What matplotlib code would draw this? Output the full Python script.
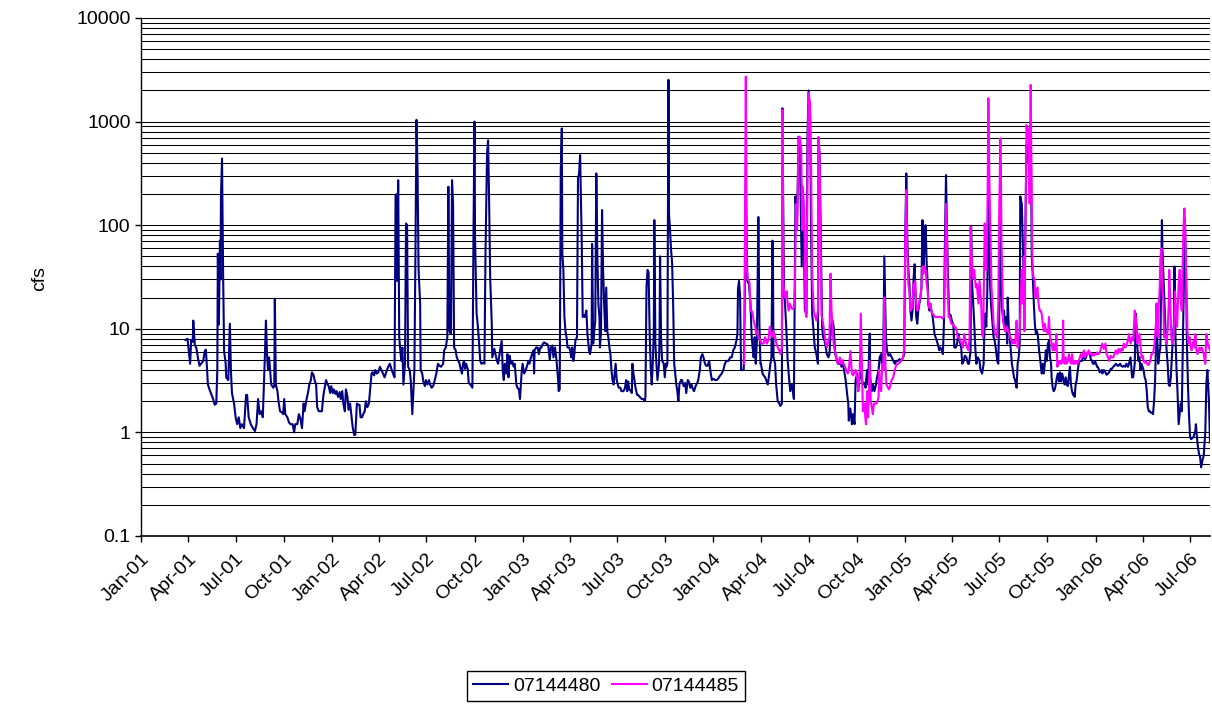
import matplotlib
matplotlib.use("Agg")
import matplotlib.pyplot as plt
import matplotlib.dates as mdates
from matplotlib.ticker import LogLocator, FuncFormatter, NullFormatter
import pandas as pd

# ---------------- data ----------------
series_names = ["07144480", "07144485"]

navy_2001 = [("2001-03-27", 7.8), ("2001-03-31", 8.0), ("2001-04-05", 4.6), ("2001-04-07", 7.8), ("2001-04-10", 7.5),
             ("2001-04-11", 12), ("2001-04-14", 7.0), ("2001-04-17", 6.5), ("2001-04-20", 5.2), ("2001-04-23", 4.4),
             ("2001-04-26", 4.6), ("2001-04-30", 4.9), ("2001-05-03", 6.1), ("2001-05-05", 6.3), ("2001-05-07", 4.4),
             ("2001-05-09", 2.9), ("2001-05-12", 2.6), ("2001-05-16", 2.3), ("2001-05-19", 2.1), ("2001-05-22", 1.85),
             ("2001-05-25", 1.9), ("2001-05-27", 4.0), ("2001-05-28", 53), ("2001-05-30", 11), ("2001-06-01", 71),
             ("2001-06-02", 30), ("2001-06-03", 190), ("2001-06-05", 440), ("2001-06-07", 37), ("2001-06-09", 6.1),
             ("2001-06-12", 4.6), ("2001-06-13", 3.4), ("2001-06-17", 3.2), ("2001-06-20", 11.2), ("2001-06-22", 4.0),
             ("2001-06-24", 2.4), ("2001-06-28", 1.9), ("2001-07-01", 1.4), ("2001-07-04", 1.2), ("2001-07-07", 1.4),
             ("2001-07-10", 1.1), ("2001-07-13", 1.2), ("2001-07-17", 1.1), ("2001-07-21", 2.3), ("2001-07-23", 2.3),
             ("2001-07-26", 1.4), ("2001-07-30", 1.2), ("2001-08-03", 1.1), ("2001-08-07", 1.03), ("2001-08-10", 1.2),
             ("2001-08-13", 2.1), ("2001-08-16", 1.5), ("2001-08-19", 1.6), ("2001-08-22", 1.4), ("2001-08-26", 5.5),
             ("2001-08-28", 12), ("2001-08-30", 5.8), ("2001-09-01", 4.0), ("2001-09-03", 5.3), ("2001-09-05", 4.0),
             ("2001-09-07", 2.9), ("2001-09-11", 2.7), ("2001-09-13", 2.8), ("2001-09-14", 19.5), ("2001-09-16", 2.9),
             ("2001-09-19", 2.5), ("2001-09-21", 2.0), ("2001-09-24", 1.6), ("2001-09-28", 1.55), ("2001-09-30", 1.5),
             ("2001-10-02", 2.1), ("2001-10-04", 1.5), ("2001-10-08", 1.4), ("2001-10-11", 1.25), ("2001-10-14", 1.2),
             ("2001-10-18", 1.2), ("2001-10-21", 1.0), ("2001-10-23", 1.2), ("2001-10-27", 1.2), ("2001-10-30", 1.5),
             ("2001-11-02", 1.35), ("2001-11-05", 1.1), ("2001-11-08", 1.9), ("2001-11-10", 1.6), ("2001-11-13", 2.0),
             ("2001-11-17", 2.5), ("2001-11-19", 2.9), ("2001-11-22", 3.2), ("2001-11-24", 3.8), ("2001-11-27", 3.6),
             ("2001-11-29", 3.2), ("2001-12-02", 2.9), ("2001-12-04", 1.75), ("2001-12-07", 1.6), ("2001-12-11", 1.6),
             ("2001-12-13", 1.6), ("2001-12-16", 2.3), ("2001-12-19", 2.8), ("2001-12-21", 3.2), ("2001-12-24", 2.9),
             ("2001-12-26", 2.8), ("2001-12-29", 2.4), ("2001-12-31", 2.8)]

navy_2002 = [("2002-01-03", 2.4), ("2002-01-05", 2.6), ("2002-01-08", 2.35), ("2002-01-10", 2.5), ("2002-01-13", 2.2),
             ("2002-01-16", 2.45), ("2002-01-18", 2.1), ("2002-01-21", 2.5), ("2002-01-23", 1.9), ("2002-01-26", 1.6),
             ("2002-01-28", 2.6), ("2002-01-31", 2.2), ("2002-02-02", 1.65), ("2002-02-05", 1.9), ("2002-02-08", 1.4),
             ("2002-02-10", 1.12), ("2002-02-13", 0.94), ("2002-02-15", 0.95), ("2002-02-18", 1.9), ("2002-02-20", 1.85),
             ("2002-02-23", 1.85), ("2002-02-25", 1.4), ("2002-02-28", 1.4), ("2002-03-02", 1.5), ("2002-03-05", 1.6),
             ("2002-03-07", 2.0), ("2002-03-10", 1.75), ("2002-03-13", 1.9), ("2002-03-15", 2.5), ("2002-03-18", 3.7),
             ("2002-03-20", 3.8), ("2002-03-23", 3.55), ("2002-03-25", 4.0), ("2002-03-28", 3.7), ("2002-03-31", 3.8),
             ("2002-04-03", 4.3), ("2002-04-06", 4.0), ("2002-04-09", 3.7), ("2002-04-12", 3.4), ("2002-04-15", 3.8),
             ("2002-04-19", 4.3), ("2002-04-22", 4.6), ("2002-04-25", 4.1), ("2002-04-28", 3.7), ("2002-05-01", 3.4),
             ("2002-05-03", 195), ("2002-05-05", 200), ("2002-05-06", 29), ("2002-05-08", 272), ("2002-05-10", 8.3),
             ("2002-05-12", 6.2), ("2002-05-14", 4.9), ("2002-05-16", 6.6), ("2002-05-18", 2.9), ("2002-05-21", 4.6),
             ("2002-05-23", 104), ("2002-05-25", 100), ("2002-05-27", 4.3), ("2002-05-30", 4.0), ("2002-06-01", 3.2),
             ("2002-06-04", 1.5), ("2002-06-06", 2.5), ("2002-06-08", 4.0), ("2002-06-10", 53), ("2002-06-12", 1040),
             ("2002-06-14", 340), ("2002-06-16", 37), ("2002-06-19", 17.5), ("2002-06-20", 4.0), ("2002-06-23", 3.7),
             ("2002-06-25", 3.1), ("2002-06-28", 2.8), ("2002-06-30", 3.2), ("2002-07-03", 2.9), ("2002-07-06", 3.2),
             ("2002-07-08", 2.9), ("2002-07-11", 2.7), ("2002-07-14", 2.8), ("2002-07-17", 3.2), ("2002-07-20", 3.7),
             ("2002-07-23", 4.6), ("2002-07-26", 4.4), ("2002-07-29", 4.3), ("2002-08-02", 4.6), ("2002-08-04", 6.2),
             ("2002-08-07", 6.6), ("2002-08-10", 8.3), ("2002-08-12", 235), ("2002-08-14", 9.5), ("2002-08-17", 8.9),
             ("2002-08-19", 272), ("2002-08-21", 162), ("2002-08-23", 6.6), ("2002-08-26", 6.2), ("2002-08-28", 5.3),
             ("2002-08-31", 4.9), ("2002-09-02", 4.7), ("2002-09-05", 4.0), ("2002-09-07", 3.7), ("2002-09-09", 4.6),
             ("2002-09-11", 4.9), ("2002-09-13", 4.1), ("2002-09-15", 4.6), ("2002-09-18", 4.1), ("2002-09-20", 3.0),
             ("2002-09-23", 2.9), ("2002-09-25", 2.8), ("2002-09-27", 2.7), ("2002-09-29", 77), ("2002-10-01", 1000),
             ("2002-10-02", 77), ("2002-10-05", 14), ("2002-10-07", 11.2), ("2002-10-09", 8.3), ("2002-10-12", 4.9),
             ("2002-10-14", 4.6), ("2002-10-17", 4.7), ("2002-10-20", 4.6), ("2002-10-22", 53), ("2002-10-25", 494),
             ("2002-10-27", 660), ("2002-10-29", 162), ("2002-10-31", 31), ("2002-11-03", 11.2), ("2002-11-04", 5.3),
             ("2002-11-08", 6.4), ("2002-11-10", 5.7), ("2002-11-13", 4.9), ("2002-11-15", 4.6), ("2002-11-18", 5.7),
             ("2002-11-20", 6.6), ("2002-11-22", 7.7), ("2002-11-24", 4.0), ("2002-11-26", 3.2), ("2002-11-28", 4.6),
             ("2002-11-30", 4.0), ("2002-12-01", 3.7), ("2002-12-03", 5.7), ("2002-12-05", 3.4), ("2002-12-07", 5.5),
             ("2002-12-10", 4.6), ("2002-12-12", 4.9), ("2002-12-15", 4.3), ("2002-12-17", 4.6), ("2002-12-20", 2.9),
             ("2002-12-22", 2.7), ("2002-12-25", 2.6), ("2002-12-27", 2.1), ("2002-12-30", 3.7)]

navy_2003 = [("2003-01-01", 4.6), ("2003-01-04", 3.7), ("2003-01-07", 4.0), ("2003-01-09", 4.3), ("2003-01-12", 4.9),
             ("2003-01-14", 4.6), ("2003-01-17", 5.3), ("2003-01-19", 5.7), ("2003-01-22", 6.2), ("2003-01-23", 3.7),
             ("2003-01-24", 6.2), ("2003-01-27", 6.6), ("2003-01-30", 6.6), ("2003-02-01", 5.7), ("2003-02-04", 6.6),
             ("2003-02-06", 6.6), ("2003-02-09", 7.2), ("2003-02-11", 7.4), ("2003-02-14", 7.2), ("2003-02-16", 7.2),
             ("2003-02-19", 6.9), ("2003-02-22", 5.0), ("2003-02-24", 6.6), ("2003-02-27", 6.9), ("2003-03-01", 5.3),
             ("2003-03-04", 6.6), ("2003-03-07", 4.9), ("2003-03-10", 3.2), ("2003-03-11", 2.5), ("2003-03-13", 2.6),
             ("2003-03-15", 340), ("2003-03-17", 860), ("2003-03-18", 53), ("2003-03-20", 37), ("2003-03-22", 13),
             ("2003-03-24", 9.5), ("2003-03-26", 8.3), ("2003-03-28", 6.6), ("2003-03-31", 6.6), ("2003-04-02", 6.2),
             ("2003-04-04", 5.3), ("2003-04-06", 6.6), ("2003-04-08", 4.9), ("2003-04-10", 5.7), ("2003-04-12", 7.7),
             ("2003-04-15", 8.3), ("2003-04-17", 290), ("2003-04-19", 310), ("2003-04-21", 476), ("2003-04-24", 77),
             ("2003-04-26", 13), ("2003-04-28", 13.5), ("2003-04-30", 13), ("2003-05-03", 15), ("2003-05-05", 9),
             ("2003-05-08", 6.2), ("2003-05-10", 5.7), ("2003-05-13", 7.2), ("2003-05-14", 66), ("2003-05-16", 7.2),
             ("2003-05-18", 9.5), ("2003-05-20", 12), ("2003-05-22", 316), ("2003-05-24", 50), ("2003-05-26", 17.5),
             ("2003-05-28", 13), ("2003-05-29", 6.6), ("2003-05-31", 9.5), ("2003-06-02", 140), ("2003-06-04", 37),
             ("2003-06-06", 17.5), ("2003-06-08", 9.5), ("2003-06-10", 25), ("2003-06-12", 9.5), ("2003-06-14", 8.3),
             ("2003-06-16", 6.6), ("2003-06-18", 5.7), ("2003-06-20", 4.0), ("2003-06-22", 3.2), ("2003-06-24", 2.9),
             ("2003-06-26", 3.7), ("2003-06-28", 4.6), ("2003-06-30", 3.2), ("2003-07-02", 2.9), ("2003-07-04", 2.7),
             ("2003-07-07", 2.7), ("2003-07-09", 2.5), ("2003-07-13", 2.5), ("2003-07-16", 2.7), ("2003-07-18", 3.2),
             ("2003-07-20", 2.5), ("2003-07-22", 3.1), ("2003-07-24", 2.6), ("2003-07-27", 2.5), ("2003-07-29", 2.4),
             ("2003-07-30", 4.6), ("2003-08-01", 3.7), ("2003-08-03", 3.2), ("2003-08-05", 2.7), ("2003-08-08", 2.3),
             ("2003-08-10", 2.3), ("2003-08-13", 2.2), ("2003-08-17", 2.1), ("2003-08-20", 2.1), ("2003-08-23", 2.0),
             ("2003-08-24", 2.2), ("2003-08-26", 25), ("2003-08-28", 37), ("2003-08-30", 35), ("2003-09-01", 9.5),
             ("2003-09-03", 4.3), ("2003-09-05", 2.9), ("2003-09-07", 4.6), ("2003-09-09", 9.5), ("2003-09-10", 112),
             ("2003-09-12", 7.2), ("2003-09-14", 4.6), ("2003-09-16", 3.2), ("2003-09-19", 4.6), ("2003-09-20", 9),
             ("2003-09-21", 50), ("2003-09-23", 7.7), ("2003-09-25", 4.9), ("2003-09-28", 4.6), ("2003-09-30", 3.4),
             ("2003-10-02", 4.6), ("2003-10-03", 4.3), ("2003-10-05", 4.6), ("2003-10-07", 2530), ("2003-10-08", 130),
             ("2003-10-10", 90), ("2003-10-12", 58), ("2003-10-14", 43), ("2003-10-16", 17.5), ("2003-10-18", 4.6),
             ("2003-10-20", 3.7), ("2003-10-22", 2.9), ("2003-10-24", 2.5), ("2003-10-26", 2.0), ("2003-10-28", 2.9),
             ("2003-10-31", 3.2), ("2003-11-02", 3.2), ("2003-11-05", 2.8), ("2003-11-08", 3.0), ("2003-11-10", 2.4),
             ("2003-11-13", 3.2), ("2003-11-15", 3.1), ("2003-11-18", 2.7), ("2003-11-20", 2.9), ("2003-11-23", 2.6),
             ("2003-11-25", 2.5), ("2003-11-28", 2.8), ("2003-12-01", 3.0), ("2003-12-03", 3.2), ("2003-12-06", 4.0),
             ("2003-12-08", 5.3), ("2003-12-11", 5.7), ("2003-12-13", 5.3), ("2003-12-16", 4.6), ("2003-12-18", 4.4),
             ("2003-12-21", 4.4), ("2003-12-24", 4.9), ("2003-12-26", 4.0), ("2003-12-29", 3.2)]

navy_2004 = [("2004-01-01", 3.3), ("2004-01-04", 3.2), ("2004-01-07", 3.2), ("2004-01-10", 3.3), ("2004-01-14", 3.55),
             ("2004-01-17", 3.7), ("2004-01-20", 4.0), ("2004-01-23", 4.6), ("2004-01-26", 4.9), ("2004-01-30", 4.9),
             ("2004-02-02", 5.3), ("2004-02-05", 5.3), ("2004-02-08", 6.2), ("2004-02-11", 6.6), ("2004-02-14", 7.7),
             ("2004-02-16", 9), ("2004-02-17", 24), ("2004-02-19", 29), ("2004-02-21", 21), ("2004-02-23", 4.0),
             ("2004-02-28", 4.0), ("2004-03-01", 17.5), ("2004-03-03", 250), ("2004-03-06", 29), ("2004-03-09", 27),
             ("2004-03-12", 17.5), ("2004-03-14", 8.9), ("2004-03-16", 6.6), ("2004-03-18", 5.3), ("2004-03-20", 8.3),
             ("2004-03-22", 4.6), ("2004-03-24", 7.2), ("2004-03-26", 40), ("2004-03-27", 120), ("2004-03-29", 11.2),
             ("2004-03-31", 4.6), ("2004-04-01", 4.6), ("2004-04-04", 3.7), ("2004-04-06", 3.55), ("2004-04-09", 3.4),
             ("2004-04-11", 3.2), ("2004-04-14", 2.9), ("2004-04-16", 3.4), ("2004-04-19", 4.6), ("2004-04-21", 5.3),
             ("2004-04-23", 71), ("2004-04-24", 37), ("2004-04-25", 5.3), ("2004-04-28", 4.6), ("2004-04-30", 2.9),
             ("2004-05-03", 2.0), ("2004-05-06", 1.9), ("2004-05-08", 1.8), ("2004-05-11", 1.9), ("2004-05-12", 1345),
             ("2004-05-15", 23), ("2004-05-17", 17.5), ("2004-05-20", 8.9), ("2004-05-22", 5.0), ("2004-05-25", 3.2),
             ("2004-05-27", 2.5), ("2004-05-30", 2.9), ("2004-06-01", 2.5), ("2004-06-03", 2.1), ("2004-06-05", 37),
             ("2004-06-06", 190), ("2004-06-09", 100), ("2004-06-12", 715), ("2004-06-14", 660), ("2004-06-17", 77),
             ("2004-06-18", 40), ("2004-06-20", 190), ("2004-06-22", 77), ("2004-06-24", 15), ("2004-06-27", 14),
             ("2004-06-29", 716), ("2004-07-01", 2000), ("2004-07-04", 1100), ("2004-07-06", 77), ("2004-07-08", 14),
             ("2004-07-11", 8.9), ("2004-07-13", 6.6), ("2004-07-16", 5.7), ("2004-07-19", 4.6), ("2004-07-20", 690),
             ("2004-07-22", 494), ("2004-07-25", 45), ("2004-07-27", 10.5), ("2004-07-29", 8.3), ("2004-07-31", 7.9),
             ("2004-08-03", 6.6), ("2004-08-05", 5.7), ("2004-08-08", 5.3), ("2004-08-10", 5.7), ("2004-08-13", 10.5),
             ("2004-08-16", 12), ("2004-08-18", 10.5), ("2004-08-21", 5.7), ("2004-08-23", 5.3), ("2004-08-26", 4.6),
             ("2004-08-28", 4.6), ("2004-08-31", 4.6), ("2004-09-02", 4.3), ("2004-09-05", 4.6), ("2004-09-08", 3.7),
             ("2004-09-10", 3.2), ("2004-09-13", 2.3), ("2004-09-15", 1.9), ("2004-09-16", 1.3), ("2004-09-19", 1.7),
             ("2004-09-22", 1.2), ("2004-09-24", 1.5), ("2004-09-27", 1.2), ("2004-09-29", 3.2), ("2004-10-02", 3.7),
             ("2004-10-04", 2.5), ("2004-10-07", 3.4), ("2004-10-09", 3.8), ("2004-10-13", 2.9), ("2004-10-16", 3.0),
             ("2004-10-18", 2.7), ("2004-10-21", 4.0), ("2004-10-23", 2.9), ("2004-10-26", 9), ("2004-10-27", 3.4),
             ("2004-10-30", 2.5), ("2004-11-01", 2.9), ("2004-11-04", 2.5), ("2004-11-07", 2.9), ("2004-11-09", 3.4),
             ("2004-11-12", 4.0), ("2004-11-14", 5.3), ("2004-11-17", 5.7), ("2004-11-19", 4.0), ("2004-11-21", 5.7),
             ("2004-11-23", 50), ("2004-11-26", 8.3), ("2004-11-28", 6.2), ("2004-12-01", 5.5), ("2004-12-04", 5.7),
             ("2004-12-07", 5.3), ("2004-12-10", 4.9), ("2004-12-13", 4.6), ("2004-12-16", 4.9), ("2004-12-19", 4.9),
             ("2004-12-22", 5.1), ("2004-12-25", 4.9), ("2004-12-29", 5.3), ("2004-12-31", 5.7)]

navy_2005 = [("2005-01-02", 77), ("2005-01-04", 316), ("2005-01-06", 71), ("2005-01-08", 37), ("2005-01-10", 27),
             ("2005-01-12", 15), ("2005-01-14", 12), ("2005-01-16", 15), ("2005-01-18", 31), ("2005-01-20", 42),
             ("2005-01-21", 25), ("2005-01-23", 13), ("2005-01-25", 11.2), ("2005-01-27", 15), ("2005-01-29", 17.5),
             ("2005-01-31", 20), ("2005-02-02", 25), ("2005-02-04", 112), ("2005-02-06", 37), ("2005-02-08", 66),
             ("2005-02-10", 100), ("2005-02-12", 43), ("2005-02-14", 27), ("2005-02-15", 17.5), ("2005-02-17", 15),
             ("2005-02-19", 17.5), ("2005-02-21", 15), ("2005-02-23", 13.5), ("2005-02-25", 11.2), ("2005-02-27", 8.9),
             ("2005-03-01", 8.3), ("2005-03-03", 7.7), ("2005-03-05", 7.2), ("2005-03-08", 6.2), ("2005-03-10", 6.6),
             ("2005-03-13", 6.2), ("2005-03-15", 5.7), ("2005-03-17", 11.2), ("2005-03-19", 77), ("2005-03-21", 305),
             ("2005-03-23", 77), ("2005-03-25", 29), ("2005-03-27", 14), ("2005-03-30", 13.5), ("2005-04-01", 12),
             ("2005-04-04", 11), ("2005-04-06", 6.6), ("2005-04-09", 6.6), ("2005-04-11", 7.2), ("2005-04-14", 8.9),
             ("2005-04-16", 7.7), ("2005-04-19", 6.6), ("2005-04-21", 4.6), ("2005-04-24", 4.9), ("2005-04-26", 5.5),
             ("2005-04-29", 5.3), ("2005-05-02", 4.6), ("2005-05-04", 4.6), ("2005-05-07", 6.2), ("2005-05-08", 96),
             ("2005-05-10", 27), ("2005-05-12", 17.5), ("2005-05-14", 11.2), ("2005-05-16", 6.6), ("2005-05-18", 4.6),
             ("2005-05-21", 5.3), ("2005-05-24", 4.9), ("2005-05-26", 4.0), ("2005-05-29", 3.7), ("2005-06-01", 4.6),
             ("2005-06-02", 8.3), ("2005-06-04", 14), ("2005-06-06", 10.5), ("2005-06-08", 23), ("2005-06-10", 300),
             ("2005-06-13", 29), ("2005-06-15", 17.5), ("2005-06-18", 11.2), ("2005-06-20", 8.3), ("2005-06-22", 7.7),
             ("2005-06-24", 6.6), ("2005-06-27", 4.9), ("2005-06-29", 4.6), ("2005-07-01", 15), ("2005-07-03", 400),
             ("2005-07-04", 37), ("2005-07-06", 16), ("2005-07-08", 13), ("2005-07-10", 15), ("2005-07-12", 9.5),
             ("2005-07-14", 13), ("2005-07-16", 7.2), ("2005-07-17", 20), ("2005-07-19", 10.5), ("2005-07-21", 8.3),
             ("2005-07-23", 6.2), ("2005-07-25", 4.6), ("2005-07-27", 4.0), ("2005-07-29", 3.4), ("2005-07-31", 3.2),
             ("2005-08-02", 2.9), ("2005-08-03", 2.7), ("2005-08-05", 4.6), ("2005-08-07", 5.3), ("2005-08-09", 7.2),
             ("2005-08-10", 190), ("2005-08-13", 160), ("2005-08-16", 40), ("2005-08-18", 20), ("2005-08-22", 600),
             ("2005-08-26", 400), ("2005-08-30", 1000), ("2005-09-01", 50), ("2005-09-03", 32), ("2005-09-05", 17.5),
             ("2005-09-07", 11), ("2005-09-09", 8.9), ("2005-09-11", 9.5), ("2005-09-13", 8.3), ("2005-09-15", 6.2),
             ("2005-09-16", 5.7), ("2005-09-18", 4.6), ("2005-09-20", 3.7), ("2005-09-22", 4.6), ("2005-09-24", 3.7),
             ("2005-09-26", 4.6), ("2005-09-28", 6.2), ("2005-09-30", 4.9), ("2005-10-02", 7.2), ("2005-10-04", 7.7),
             ("2005-10-06", 5.3), ("2005-10-08", 4.6), ("2005-10-09", 3.4), ("2005-10-11", 2.7), ("2005-10-13", 2.5),
             ("2005-10-15", 2.6), ("2005-10-17", 2.9), ("2005-10-19", 3.4), ("2005-10-21", 3.7), ("2005-10-23", 3.1),
             ("2005-10-25", 3.8), ("2005-10-27", 3.1), ("2005-10-29", 3.7), ("2005-10-31", 3.4), ("2005-11-01", 3.1),
             ("2005-11-03", 2.9), ("2005-11-05", 3.4), ("2005-11-07", 2.9), ("2005-11-09", 2.8), ("2005-11-11", 3.5),
             ("2005-11-13", 4.3), ("2005-11-15", 2.9), ("2005-11-17", 2.5), ("2005-11-19", 2.3), ("2005-11-21", 2.4),
             ("2005-11-22", 2.2), ("2005-11-24", 2.9), ("2005-11-26", 3.2), ("2005-11-28", 4.0), ("2005-11-30", 4.6),
             ("2005-12-02", 4.9), ("2005-12-04", 4.9), ("2005-12-06", 4.9), ("2005-12-08", 5.3), ("2005-12-10", 5.5),
             ("2005-12-12", 5.1), ("2005-12-14", 5.3), ("2005-12-15", 5.7), ("2005-12-17", 5.7), ("2005-12-19", 5.9),
             ("2005-12-21", 5.7), ("2005-12-23", 5.1), ("2005-12-25", 4.9), ("2005-12-27", 4.6), ("2005-12-29", 4.6),
             ("2005-12-31", 4.9)]

navy_2006 = [("2006-01-02", 4.6), ("2006-01-04", 4.3), ("2006-01-05", 4.3), ("2006-01-07", 4.1), ("2006-01-09", 3.8),
             ("2006-01-13", 4.0), ("2006-01-14", 3.7), ("2006-01-17", 4.0), ("2006-01-20", 3.8), ("2006-01-22", 3.6),
             ("2006-01-25", 3.7), ("2006-01-27", 3.8), ("2006-01-30", 4.1), ("2006-02-01", 4.1), ("2006-02-04", 4.3),
             ("2006-02-06", 4.4), ("2006-02-09", 4.6), ("2006-02-12", 4.4), ("2006-02-14", 4.4), ("2006-02-17", 4.6),
             ("2006-02-19", 4.4), ("2006-02-22", 4.3), ("2006-02-24", 4.4), ("2006-02-27", 4.3), ("2006-03-01", 4.6),
             ("2006-03-04", 4.3), ("2006-03-06", 4.6), ("2006-03-09", 5.3), ("2006-03-12", 3.4), ("2006-03-14", 3.4),
             ("2006-03-17", 4.6), ("2006-03-19", 14), ("2006-03-21", 9.5), ("2006-03-22", 6.6), ("2006-03-24", 4.9),
             ("2006-03-26", 5.3), ("2006-03-28", 4.0), ("2006-03-30", 4.6), ("2006-04-01", 4.3), ("2006-04-03", 4.0),
             ("2006-04-05", 3.4), ("2006-04-07", 3.2), ("2006-04-09", 2.5), ("2006-04-11", 1.75), ("2006-04-13", 1.6),
             ("2006-04-15", 1.6), ("2006-04-17", 1.55), ("2006-04-19", 1.55), ("2006-04-21", 1.5), ("2006-04-23", 2.0),
             ("2006-04-25", 3.2), ("2006-04-27", 8.3), ("2006-04-28", 17.5), ("2006-04-29", 8.3), ("2006-05-01", 4.6),
             ("2006-05-03", 5.7), ("2006-05-05", 6.6), ("2006-05-07", 50), ("2006-05-08", 112), ("2006-05-09", 58),
             ("2006-05-11", 31), ("2006-05-13", 17.5), ("2006-05-15", 9.5), ("2006-05-17", 6.2), ("2006-05-19", 4.6),
             ("2006-05-21", 2.9), ("2006-05-23", 2.8), ("2006-05-25", 3.4), ("2006-05-27", 5.3), ("2006-05-29", 8.3),
             ("2006-05-31", 11.2), ("2006-06-01", 40), ("2006-06-03", 8.3), ("2006-06-05", 4.0), ("2006-06-07", 2.35),
             ("2006-06-09", 1.2), ("2006-06-11", 1.5), ("2006-06-13", 1.9), ("2006-06-15", 1.6), ("2006-06-17", 6.6),
             ("2006-06-19", 29), ("2006-06-21", 115), ("2006-06-23", 37), ("2006-06-25", 6.6), ("2006-06-27", 2.7),
             ("2006-06-29", 1.4), ("2006-07-01", 0.9), ("2006-07-03", 0.86), ("2006-07-05", 0.88), ("2006-07-07", 0.9),
             ("2006-07-09", 0.96), ("2006-07-11", 1.04), ("2006-07-12", 1.2), ("2006-07-14", 0.9), ("2006-07-16", 0.72),
             ("2006-07-18", 0.62), ("2006-07-20", 0.58), ("2006-07-22", 0.46), ("2006-07-25", 0.55), ("2006-07-27", 0.6),
             ("2006-07-30", 1.0), ("2006-08-01", 3.0), ("2006-08-03", 4.0), ("2006-08-06", 2.0), ("2006-08-08", 0.8)]

magenta_2004 = [("2004-02-29", 4.6), ("2004-03-01", 60), ("2004-03-03", 2720), ("2004-03-05", 37), ("2004-03-07", 30),
                ("2004-03-10", 28), ("2004-03-12", 15), ("2004-03-14", 15), ("2004-03-16", 14), ("2004-03-18", 12),
                ("2004-03-21", 10.5), ("2004-03-23", 8.9), ("2004-03-25", 9.5), ("2004-03-27", 8.3), ("2004-03-31", 7.7),
                ("2004-04-02", 7.2), ("2004-04-06", 7.2), ("2004-04-09", 8.3), ("2004-04-12", 7.2), ("2004-04-15", 7.7),
                ("2004-04-18", 10.5), ("2004-04-20", 8.9), ("2004-04-23", 8.3), ("2004-04-25", 9.5), ("2004-04-28", 8.3),
                ("2004-04-30", 7.4), ("2004-05-03", 6.6), ("2004-05-06", 6.2), ("2004-05-08", 5.7), ("2004-05-11", 6.6),
                ("2004-05-12", 1300), ("2004-05-14", 27), ("2004-05-16", 21), ("2004-05-18", 20), ("2004-05-20", 23),
                ("2004-05-22", 17.5), ("2004-05-24", 15), ("2004-05-26", 17.5), ("2004-05-29", 16), ("2004-05-31", 15.5),
                ("2004-06-03", 16), ("2004-06-05", 25), ("2004-06-07", 160), ("2004-06-09", 90), ("2004-06-12", 650),
                ("2004-06-14", 715), ("2004-06-17", 560), ("2004-06-19", 90), ("2004-06-20", 235), ("2004-06-23", 140),
                ("2004-06-25", 15), ("2004-06-27", 13), ("2004-06-29", 340), ("2004-07-01", 1880), ("2004-07-04", 1500),
                ("2004-07-06", 340), ("2004-07-08", 31), ("2004-07-11", 15), ("2004-07-13", 13.5), ("2004-07-16", 12),
                ("2004-07-19", 15), ("2004-07-20", 710), ("2004-07-22", 480), ("2004-07-24", 77), ("2004-07-26", 13.5),
                ("2004-07-28", 12), ("2004-07-31", 9.5), ("2004-08-03", 7.2), ("2004-08-05", 6.6), ("2004-08-08", 7.7),
                ("2004-08-10", 8.3), ("2004-08-12", 34), ("2004-08-14", 15), ("2004-08-17", 8.3), ("2004-08-19", 6.6),
                ("2004-08-22", 5.7), ("2004-08-24", 5.0), ("2004-08-27", 4.6), ("2004-08-30", 5.3), ("2004-09-01", 4.6),
                ("2004-09-04", 5.0), ("2004-09-06", 4.6), ("2004-09-09", 4.3), ("2004-09-11", 4.0), ("2004-09-14", 3.7),
                ("2004-09-16", 4.0), ("2004-09-19", 6.1), ("2004-09-22", 3.7), ("2004-09-24", 3.55), ("2004-09-27", 3.8),
                ("2004-09-29", 4.0), ("2004-10-02", 3.4), ("2004-10-04", 2.5), ("2004-10-07", 4.0), ("2004-10-09", 14),
                ("2004-10-13", 1.6), ("2004-10-16", 1.9), ("2004-10-18", 1.3), ("2004-10-19", 1.2), ("2004-10-21", 2.5),
                ("2004-10-23", 1.4), ("2004-10-26", 4.9), ("2004-10-28", 2.0), ("2004-10-30", 1.75), ("2004-11-01", 1.5),
                ("2004-11-03", 1.9), ("2004-11-05", 1.9), ("2004-11-08", 1.9), ("2004-11-10", 2.0), ("2004-11-12", 2.2),
                ("2004-11-13", 4.0), ("2004-11-15", 2.7), ("2004-11-17", 2.5), ("2004-11-19", 4.6), ("2004-11-21", 4.0),
                ("2004-11-23", 20), ("2004-11-25", 4.6), ("2004-11-27", 2.9), ("2004-11-30", 2.7), ("2004-12-02", 2.6),
                ("2004-12-05", 2.9), ("2004-12-07", 3.2), ("2004-12-10", 3.4), ("2004-12-13", 4.0), ("2004-12-16", 4.5),
                ("2004-12-19", 4.6), ("2004-12-22", 4.7), ("2004-12-25", 4.9), ("2004-12-29", 5.3), ("2004-12-31", 6.6)]

magenta_2005 = [("2005-01-02", 66), ("2005-01-04", 218), ("2005-01-06", 57), ("2005-01-08", 27), ("2005-01-10", 23),
                ("2005-01-12", 15), ("2005-01-14", 15.5), ("2005-01-16", 17.5), ("2005-01-18", 27), ("2005-01-20", 23),
                ("2005-01-21", 29), ("2005-01-23", 17.5), ("2005-01-25", 15), ("2005-01-27", 16), ("2005-01-29", 18.5),
                ("2005-01-31", 20), ("2005-02-02", 25), ("2005-02-04", 40), ("2005-02-06", 34), ("2005-02-08", 40),
                ("2005-02-10", 37), ("2005-02-12", 27), ("2005-02-14", 23), ("2005-02-15", 19), ("2005-02-17", 16),
                ("2005-02-19", 17.5), ("2005-02-21", 15), ("2005-02-23", 14), ("2005-02-26", 13.5), ("2005-02-28", 13),
                ("2005-03-04", 13), ("2005-03-08", 13), ("2005-03-12", 13), ("2005-03-14", 12.6), ("2005-03-17", 13),
                ("2005-03-19", 37), ("2005-03-21", 160), ("2005-03-23", 77), ("2005-03-24", 27), ("2005-03-26", 13),
                ("2005-03-28", 13), ("2005-03-31", 11.2), ("2005-04-02", 11.2), ("2005-04-05", 10.5), ("2005-04-07", 10.5),
                ("2005-04-10", 10), ("2005-04-12", 8.3), ("2005-04-15", 8.3), ("2005-04-17", 7.7), ("2005-04-20", 7.2),
                ("2005-04-22", 6.6), ("2005-04-25", 8.9), ("2005-04-27", 7.7), ("2005-04-30", 6.6), ("2005-05-03", 6.2),
                ("2005-05-05", 8.3), ("2005-05-07", 96), ("2005-05-09", 50), ("2005-05-12", 31), ("2005-05-14", 37),
                ("2005-05-17", 25), ("2005-05-19", 27), ("2005-05-22", 17.5), ("2005-05-24", 29), ("2005-05-27", 19),
                ("2005-05-29", 8.9), ("2005-05-31", 8.3), ("2005-06-01", 17.5), ("2005-06-03", 104), ("2005-06-04", 77),
                ("2005-06-06", 37), ("2005-06-08", 104), ("2005-06-09", 340), ("2005-06-10", 1680), ("2005-06-12", 270),
                ("2005-06-14", 77), ("2005-06-16", 25), ("2005-06-18", 17.5), ("2005-06-20", 11.2), ("2005-06-22", 9.5),
                ("2005-06-24", 8.9), ("2005-06-26", 8.3), ("2005-06-27", 8.3), ("2005-06-29", 17.5), ("2005-07-01", 162),
                ("2005-07-03", 690), ("2005-07-04", 340), ("2005-07-05", 77), ("2005-07-07", 25), ("2005-07-08", 12),
                ("2005-07-10", 10.5), ("2005-07-12", 9.5), ("2005-07-14", 9.5), ("2005-07-16", 10.5), ("2005-07-18", 9.5),
                ("2005-07-20", 8.9), ("2005-07-22", 8.3), ("2005-07-24", 7.7), ("2005-07-26", 7.2), ("2005-07-27", 7.7),
                ("2005-07-29", 7.4), ("2005-07-31", 7.2), ("2005-08-02", 9.5), ("2005-08-03", 12), ("2005-08-05", 6.6),
                ("2005-08-07", 8.3), ("2005-08-09", 9.5), ("2005-08-11", 20), ("2005-08-13", 37), ("2005-08-15", 17.5),
                ("2005-08-17", 50), ("2005-08-18", 9.5), ("2005-08-20", 104), ("2005-08-22", 925), ("2005-08-24", 716),
                ("2005-08-26", 860), ("2005-08-28", 162), ("2005-08-29", 716), ("2005-08-30", 2260), ("2005-09-01", 162),
                ("2005-09-02", 50), ("2005-09-04", 31), ("2005-09-06", 31), ("2005-09-08", 20), ("2005-09-10", 23),
                ("2005-09-12", 25), ("2005-09-14", 17.5), ("2005-09-16", 15), ("2005-09-18", 15), ("2005-09-20", 14),
                ("2005-09-22", 11.2), ("2005-09-24", 9.5), ("2005-09-26", 11.2), ("2005-09-28", 9.5), ("2005-09-30", 9.5),
                ("2005-10-02", 8.9), ("2005-10-04", 13), ("2005-10-06", 8.3), ("2005-10-08", 7.7), ("2005-10-09", 7.2),
                ("2005-10-11", 6.2), ("2005-10-13", 7.2), ("2005-10-15", 6.2), ("2005-10-17", 6.6), ("2005-10-18", 8.9),
                ("2005-10-20", 4.3), ("2005-10-22", 4.9), ("2005-10-24", 4.6), ("2005-10-26", 4.9), ("2005-10-28", 4.6),
                ("2005-10-30", 5.3), ("2005-10-31", 12), ("2005-11-01", 4.9), ("2005-11-03", 4.6), ("2005-11-05", 5.3),
                ("2005-11-07", 4.6), ("2005-11-09", 4.9), ("2005-11-11", 5.7), ("2005-11-13", 4.9), ("2005-11-15", 4.6),
                ("2005-11-17", 5.7), ("2005-11-19", 4.6), ("2005-11-21", 4.6), ("2005-11-22", 4.9), ("2005-11-24", 4.6),
                ("2005-11-26", 4.9), ("2005-11-28", 4.6), ("2005-11-30", 4.9), ("2005-12-02", 5.3), ("2005-12-04", 5.7),
                ("2005-12-06", 5.3), ("2005-12-08", 5.7), ("2005-12-10", 6.2), ("2005-12-12", 5.3), ("2005-12-14", 5.7),
                ("2005-12-15", 5.9), ("2005-12-17", 5.7), ("2005-12-19", 6.2), ("2005-12-21", 5.7), ("2005-12-23", 5.9),
                ("2005-12-25", 5.5), ("2005-12-27", 5.7), ("2005-12-29", 5.5), ("2005-12-31", 5.7)]

magenta_2006 = [("2006-01-02", 5.7), ("2006-01-04", 5.9), ("2006-01-05", 5.7), ("2006-01-07", 5.7), ("2006-01-09", 5.9),
                ("2006-01-12", 6.6), ("2006-01-14", 7.2), ("2006-01-17", 6.4), ("2006-01-20", 7.2), ("2006-01-22", 5.7),
                ("2006-01-25", 5.3), ("2006-01-27", 4.9), ("2006-01-30", 5.5), ("2006-02-01", 5.3), ("2006-02-04", 5.3),
                ("2006-02-06", 5.7), ("2006-02-09", 6.2), ("2006-02-12", 5.7), ("2006-02-14", 6.4), ("2006-02-17", 5.9),
                ("2006-02-19", 6.4), ("2006-02-22", 6.2), ("2006-02-24", 7.2), ("2006-02-27", 6.6), ("2006-03-01", 6.9),
                ("2006-03-04", 7.7), ("2006-03-06", 8.9), ("2006-03-09", 7.2), ("2006-03-12", 8.3), ("2006-03-14", 7.7),
                ("2006-03-17", 15), ("2006-03-19", 13), ("2006-03-21", 9.5), ("2006-03-22", 7.2), ("2006-03-24", 8.3),
                ("2006-03-26", 8.9), ("2006-03-28", 6.9), ("2006-03-30", 5.3), ("2006-04-01", 5.5), ("2006-04-03", 4.9),
                ("2006-04-05", 4.7), ("2006-04-07", 4.9), ("2006-04-09", 4.7), ("2006-04-11", 4.5), ("2006-04-13", 4.5),
                ("2006-04-14", 4.7), ("2006-04-16", 4.9), ("2006-04-18", 5.7), ("2006-04-20", 5.7), ("2006-04-22", 6.2),
                ("2006-04-24", 7.2), ("2006-04-25", 8.9), ("2006-04-27", 12), ("2006-04-28", 17.5), ("2006-04-29", 13),
                ("2006-04-30", 8.3), ("2006-05-02", 17.5), ("2006-05-03", 20), ("2006-05-04", 27), ("2006-05-05", 47),
                ("2006-05-07", 60), ("2006-05-08", 37), ("2006-05-09", 25), ("2006-05-11", 17.5), ("2006-05-12", 8.3),
                ("2006-05-13", 8.9), ("2006-05-15", 8.3), ("2006-05-17", 7.2), ("2006-05-19", 9.5), ("2006-05-21", 17.5),
                ("2006-05-22", 37), ("2006-05-24", 19), ("2006-05-26", 8.3), ("2006-05-28", 7.2), ("2006-05-30", 8.3),
                ("2006-05-31", 9.5), ("2006-06-02", 23), ("2006-06-04", 15), ("2006-06-06", 10.5), ("2006-06-08", 20),
                ("2006-06-09", 27), ("2006-06-11", 37), ("2006-06-13", 20), ("2006-06-15", 15), ("2006-06-17", 50),
                ("2006-06-18", 84), ("2006-06-20", 145), ("2006-06-22", 77), ("2006-06-24", 25), ("2006-06-26", 9.5),
                ("2006-06-28", 7.2), ("2006-06-30", 8.3), ("2006-07-02", 6.6), ("2006-07-04", 6.2), ("2006-07-06", 7.2),
                ("2006-07-08", 7.7), ("2006-07-10", 6.6), ("2006-07-11", 8.9), ("2006-07-13", 6.2), ("2006-07-15", 5.7),
                ("2006-07-17", 6.2), ("2006-07-19", 6.6), ("2006-07-21", 6.2), ("2006-07-23", 6.6), ("2006-07-25", 6.2),
                ("2006-07-27", 5.7), ("2006-07-28", 5.3), ("2006-07-30", 4.6), ("2006-08-01", 8.9), ("2006-08-02", 8.3),
                ("2006-08-04", 7.2), ("2006-08-06", 6.6), ("2006-08-08", 6.2)]

y_tick_values = [0.1, 1, 10, 100, 1000, 10000]
y_label = "cfs"
x_start, x_end = "2001-01-01", "2006-08-08"

# ---------------- assemble ----------------
navy = navy_2001 + navy_2002 + navy_2003 + navy_2004 + navy_2005 + navy_2006
magenta = magenta_2004 + magenta_2005 + magenta_2006
nav_d = pd.to_datetime([d for d, _ in navy])
nav_v = [v for _, v in navy]
mag_d = pd.to_datetime([d for d, _ in magenta])
mag_v = [v for _, v in magenta]

# ---------------- figure ----------------
plt.rcParams['font.family'] = ['Liberation Sans', 'DejaVu Sans']
W, H = 1212, 704
fig = plt.figure(figsize=(W / 100, H / 100), dpi=100)
fig.patch.set_facecolor('white')
left, right, top, bottom = 141, 1210, 18, 536
ax = fig.add_axes([left / W, 1 - bottom / H, (right - left) / W, (bottom - top) / H])

ax.set_yscale('log')
ax.set_ylim(0.1, 10000)
ax.set_xlim(pd.Timestamp(x_start), pd.Timestamp(x_end))

# horizontal grid (major + minor)
ax.yaxis.set_major_locator(LogLocator(base=10, numticks=20))
ax.yaxis.set_minor_locator(LogLocator(base=10, subs=range(2, 10), numticks=20))
ax.yaxis.set_minor_formatter(NullFormatter())
ax.set_yticks(y_tick_values)
ax.yaxis.set_major_formatter(FuncFormatter(lambda v, p: f"{v:g}"))
ax.grid(True, which='both', axis='y', color='black', linewidth=0.75)
ax.grid(False, axis='x')
ax.set_axisbelow(True)

ax.plot(nav_d, nav_v, color='#000080', linewidth=1.5, label=series_names[0], zorder=3)
ax.plot(mag_d, mag_v, color='#FF00FF', linewidth=1.5, label=series_names[1], zorder=4)

for s in ['top', 'right']:
    ax.spines[s].set_visible(False)
ax.spines['left'].set_color('black')
ax.spines['left'].set_linewidth(1.0)
ax.spines['bottom'].set_color('black')
ax.spines['bottom'].set_linewidth(1.2)

ax.tick_params(axis='y', which='major', direction='out', length=4.5, width=1.0, color='black',
               labelsize=14, pad=3)
ax.tick_params(axis='y', which='minor', length=0)

ax.xaxis.set_major_locator(mdates.MonthLocator(bymonth=[1, 4, 7, 10]))
ax.xaxis.set_major_formatter(mdates.DateFormatter('%b-%y'))
ax.tick_params(axis='x', which='major', direction='out', length=4.5, width=1.0, color='black',
               labelsize=14, pad=6)
for lab in ax.get_xticklabels():
    lab.set_rotation(45)
    lab.set_ha('right')
    lab.set_va('top')
    lab.set_rotation_mode('anchor')

fig.text(40 / W, 1 - 279 / H, y_label, rotation=90, ha='center', va='center', fontsize=14)

leg = fig.legend(loc='center', bbox_to_anchor=(606 / W, 1 - 686 / H), ncol=2, frameon=True,
                 fancybox=False, edgecolor='black', framealpha=1, fontsize=14,
                 handlelength=1.8, handletextpad=0.25, columnspacing=0.6, borderpad=0.3)
leg.get_frame().set_linewidth(1.0)

fig.savefig('out.png', dpi=100, facecolor='white')
